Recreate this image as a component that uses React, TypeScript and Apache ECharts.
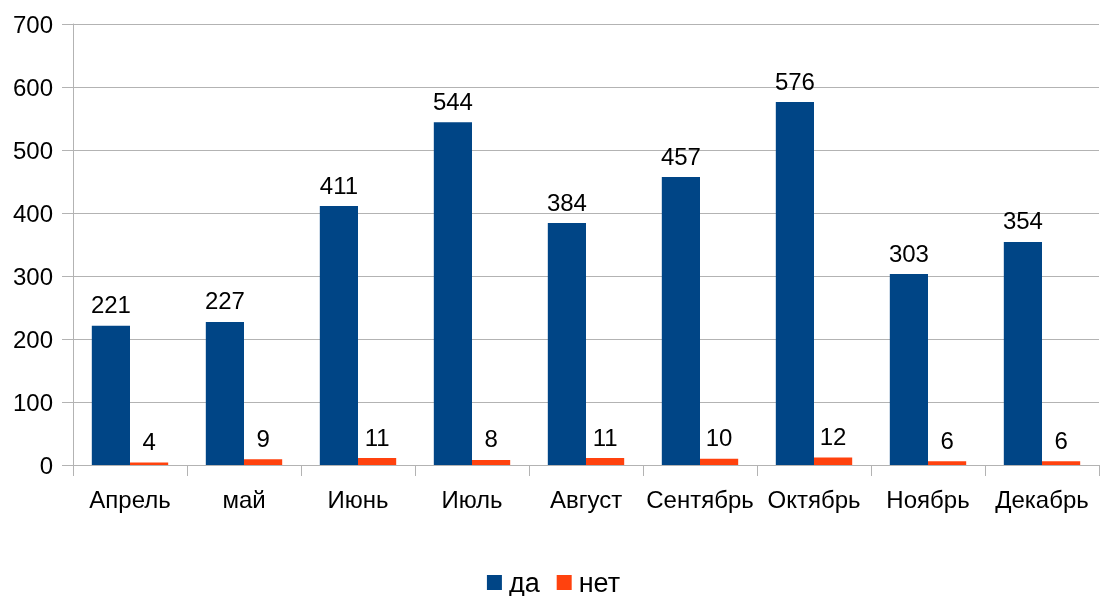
import React, { useEffect, useRef } from "react";
import * as echarts from "echarts";

const categories = ["Апрель", "май", "Июнь", "Июль", "Август", "Сентябрь", "Октябрь", "Ноябрь", "Декабрь"];
const daValues = [221, 227, 411, 544, 384, 457, 576, 303, 354];
const netValues = [4, 9, 11, 8, 11, 10, 12, 6, 6];
const seriesNames = ["да", "нет"];

export default function App() {
  const ref = useRef<HTMLDivElement>(null);
  useEffect(() => {
    const chart = echarts.init(ref.current!, null, { renderer: "svg" });
    const font = "Liberation Sans";
    const label = {
      show: true,
      position: "top" as const,
      color: "#000",
      fontSize: 24,
      fontFamily: font,
      distance: 9,
    };
    chart.setOption({
      animation: false,
      textStyle: { fontFamily: font },
      grid: { left: 73, right: 8, top: 24, bottom: 131 },
      legend: {
        bottom: 0,
        padding: 0,
        left: "center",
        itemWidth: 15,
        itemHeight: 15,
        itemGap: 17,
        icon: "rect",
        textStyle: { fontSize: 27, color: "#000", fontFamily: font, padding: [0, 0, 0, 2] },
        data: seriesNames,
      },
      xAxis: {
        type: "category",
        data: categories,
        axisLine: { lineStyle: { color: "#b3b3b3" } },
        axisTick: { show: true, length: 11, lineStyle: { color: "#b3b3b3" } },
        axisLabel: { color: "#000", fontSize: 24, fontFamily: font, margin: 22, interval: 0 },
      },
      yAxis: {
        type: "value",
        min: 0,
        max: 700,
        interval: 100,
        axisLine: { show: true, lineStyle: { color: "#b3b3b3" } },
        axisTick: { show: true, length: 11, lineStyle: { color: "#b3b3b3" } },
        splitLine: { lineStyle: { color: "#b3b3b3" } },
        axisLabel: { color: "#000", fontSize: 24, fontFamily: font, margin: 20 },
      },
      series: [
        {
          name: seriesNames[0],
          type: "bar",
          data: daValues,
          itemStyle: { color: "#004586" },
          barGap: "0%",
          barCategoryGap: "33%",
          label,
        },
        {
          name: seriesNames[1],
          type: "bar",
          data: netValues,
          itemStyle: { color: "#ff420e" },
          label,
        },
      ],
    });
    return () => chart.dispose();
  }, []);
  return <div ref={ref} style={{ position: "fixed", left: 0, top: 0, width: 1107, height: 596 }} />;
}
